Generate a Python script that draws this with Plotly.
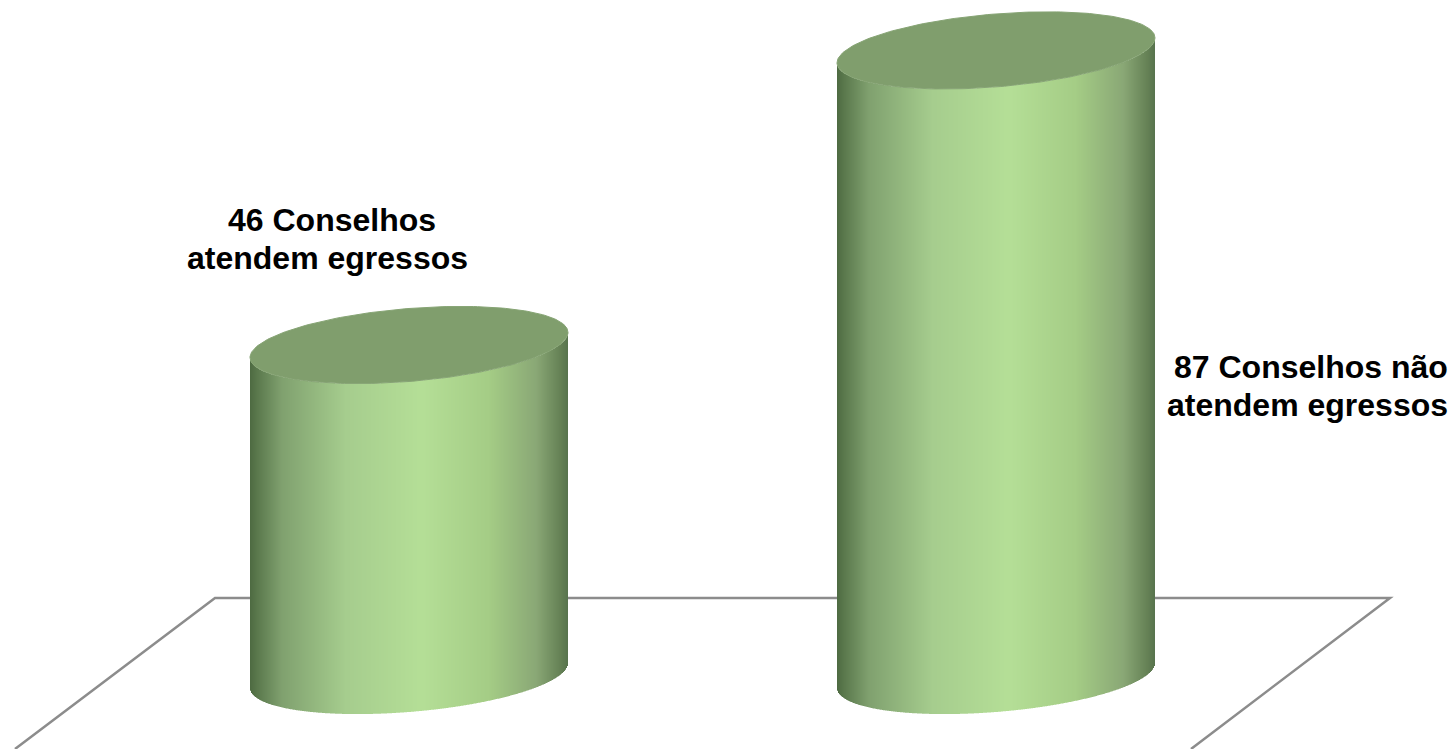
import numpy as np
import plotly.graph_objects as go

# ---- data ----
labels = [["46 Conselhos", "atendem egressos"], ["87 Conselhos não", "atendem egressos"]]
values = [46, 87]

# ---- layout of the pseudo-3D scene (axis x = px, axis y = value units) ----
W, H = 1453, 749
PX_PER_UNIT = 7.185
BASE_PX = 675.5                 # screen row of value 0
centers = [409, 996]
A = 159                         # half width of a cylinder
TILT = 12.5 / PX_PER_UNIT       # rise of ellipse right end
B = 36.5 / PX_PER_UNIT          # half depth of ellipse
y_low = (BASE_PX - H) / PX_PER_UNIT
y_high = BASE_PX / PX_PER_UNIT


def row(py):
    return (BASE_PX - py) / PX_PER_UNIT


stops = [0.0, 0.025, 0.1, 0.3, 0.54, 0.75, 0.9, 0.975, 1.0]
cols = [(78, 106, 66), (92, 122, 78), (128, 161, 111), (166, 205, 142), (181, 223, 151),
        (165, 205, 134), (138, 168, 118), (102, 130, 86), (88, 116, 78)]
cols = np.array(cols, float)


def shade(u):
    r, g, b = [np.interp(u, stops, cols[:, i]) for i in range(3)]
    return [f"rgb({int(a)},{int(c)},{int(d)})" for a, c, d in zip(r, g, b)]


fig = go.Figure()

# floor outline, behind every trace
fig.add_shape(type="path", layer="below", xref="x", yref="y",
              path=f"M 15 {y_low} L 215 {row(598)} L 1390 {row(598)} L 1191 {y_low}",
              line=dict(color="#8c8c8c", width=2.5), fillcolor="rgba(0,0,0,0)")

# cylinder bodies: one bar trace of thin upright strips each
for cx, v in zip(centers, values):
    xs = np.arange(cx - A, cx + A) + 0.5
    c = (xs - cx) / A
    s = np.sqrt(1 - c ** 2)
    offset = TILT * c - B * s         # front edge of an ellipse relative to its centre
    fig.add_trace(go.Bar(x=xs, y=np.full_like(xs, float(v)), base=offset, width=1.0,
                         marker=dict(color=shade((xs - (cx - A)) / (2 * A)), line=dict(width=0)),
                         hoverinfo="skip", showlegend=False))

# top caps
for cx, v in zip(centers, values):
    t = np.linspace(0, 2 * np.pi, 241)
    fig.add_trace(go.Scatter(x=cx + A * np.cos(t),
                             y=v + TILT * np.cos(t) + B * np.sin(t),
                             mode="lines", fill="toself", fillcolor="#809e6d",
                             line=dict(color="#86a474", width=1),
                             hoverinfo="skip", showlegend=False))

label_pos = [[(331.5, 220), (327, 258)], [(1310.5, 367), (1307, 405)]]
for lines, places in zip(labels, label_pos):
    for text, (lx, py) in zip(lines, places):
        fig.add_annotation(x=lx, y=row(py), text=f"<b>{text}</b>", showarrow=False,
                           xanchor="center", yanchor="middle",
                           font=dict(family="Liberation Sans", size=32, color="#000000"))

fig.update_layout(width=W, height=H, margin=dict(l=0, r=0, t=0, b=0), barmode="overlay",
                  paper_bgcolor="white", plot_bgcolor="white", showlegend=False,
                  xaxis=dict(range=[0, W], visible=False, fixedrange=True),
                  yaxis=dict(range=[y_low, y_high], visible=False, fixedrange=True))

fig.write_html("out.html", config={"displayModeBar": False},
               post_script="document.body.style.margin='0';document.body.style.overflow='hidden';")
